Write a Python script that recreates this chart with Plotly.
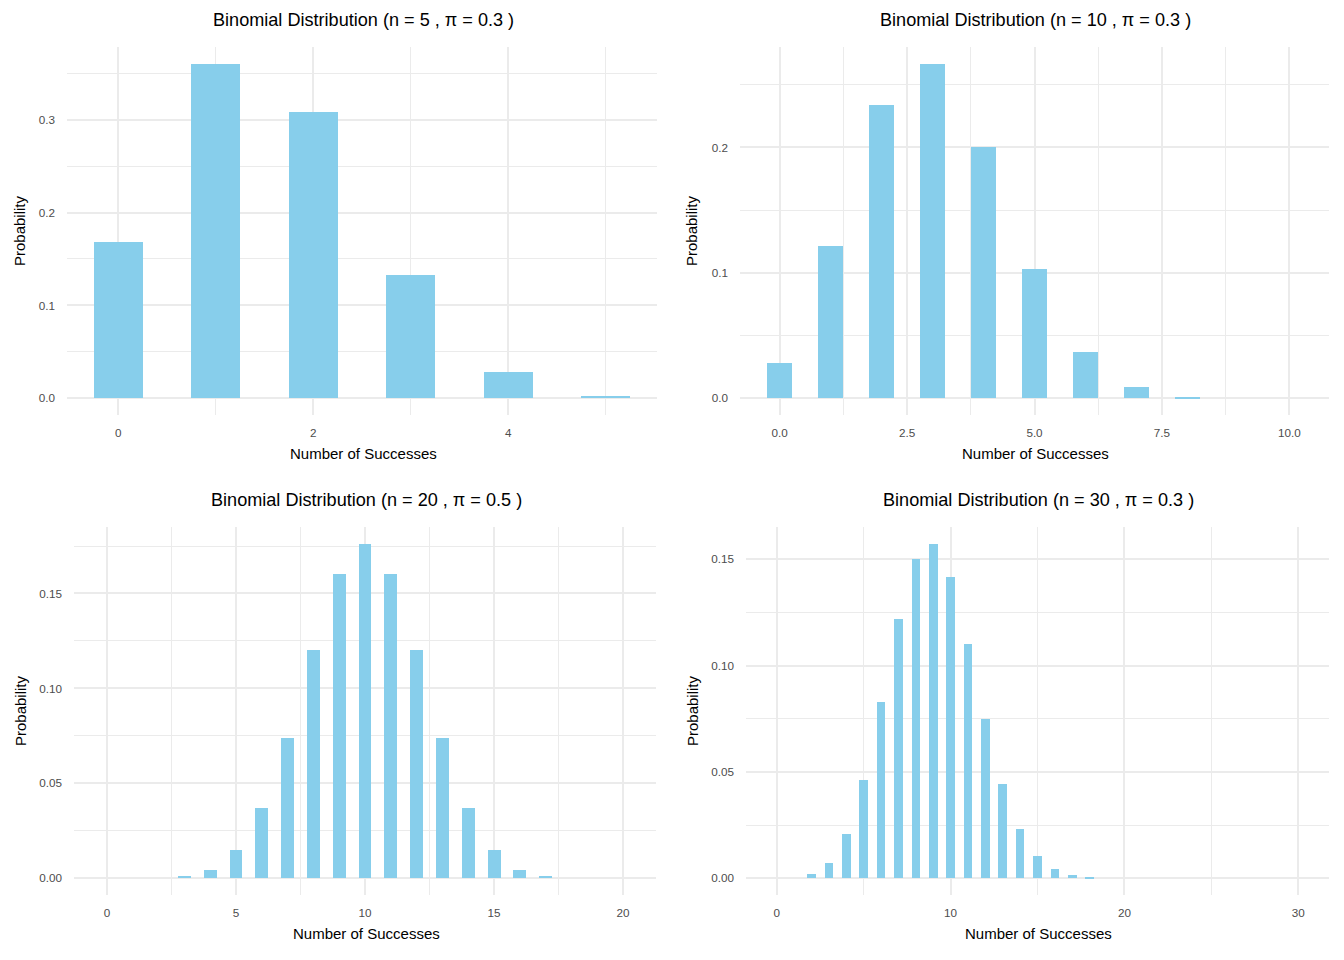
import plotly.graph_objects as go

# ---- data ----
k5 = [0, 1, 2, 3, 4, 5]
p5 = [0.1681, 0.3602, 0.3087, 0.1323, 0.0284, 0.0024]

k10 = list(range(0, 11))
p10 = [0.0282, 0.1211, 0.2335, 0.2668, 0.2001, 0.1029, 0.0368, 0.0090, 0.0014, 0.0000, 0.0000]

k20 = list(range(0, 21))
p20 = [0.0000, 0.0000, 0.0000, 0.0011, 0.0046, 0.0148, 0.0370, 0.0739, 0.1201, 0.1602,
       0.1762, 0.1602, 0.1201, 0.0739, 0.0370, 0.0148, 0.0046, 0.0011, 0.0000, 0.0000, 0.0000]

k30 = list(range(0, 31))
p30 = [0.0000, 0.0000, 0.0018, 0.0072, 0.0208, 0.0464, 0.0829, 0.1219, 0.1501, 0.1573,
       0.1416, 0.1103, 0.0749, 0.0444, 0.0231, 0.0106, 0.0042, 0.0015, 0.0005, 0.0000,
       0.0000, 0.0000, 0.0000, 0.0000, 0.0000, 0.0000, 0.0000, 0.0000, 0.0000, 0.0000, 0.0000]

titles = ["Binomial Distribution (n = 5 , \u03c0 = 0.3 )",
          "Binomial Distribution (n = 10 , \u03c0 = 0.3 )",
          "Binomial Distribution (n = 20 , \u03c0 = 0.5 )",
          "Binomial Distribution (n = 30 , \u03c0 = 0.3 )"]
x_title = "Number of Successes"
y_title = "Probability"

OFF = 8  # default page body margin
W, H = 1344 - 2 * OFF, 960 - 2 * OFF
FONT = "Liberation Sans, Arial, sans-serif"
BAR = "#87CEEB"
GRID = "#EBEBEB"

def px(x):
    return (x - OFF) / W

def py(y):
    return 1 - (y - OFF) / H

# panel pixel boxes in page coordinates: (left, right, top, bottom)
panels = [
    (67, 657, 47, 415),
    (740, 1329, 47, 415),
    (74, 656, 527, 895),
    (746, 1329, 527, 895),
]
series = [(k5, p5), (k10, p10), (k20, p20), (k30, p30)]
x_dtick = [2, 2.5, 5, 10]
y_dtick = [0.1, 0.1, 0.05, 0.05]
x_fmt = ["d", ".1f", "d", "d"]
y_fmt = [".1f", ".1f", ".2f", ".2f"]

fig = go.Figure()
annotations = []
for i, ((xs, ys), (l, r, t, b)) in enumerate(zip(series, panels)):
    idx = "" if i == 0 else str(i + 1)
    fig.add_trace(go.Bar(x=xs, y=ys, width=0.5, marker=dict(color=BAR, line=dict(width=0)),
                         xaxis="x" + idx, yaxis="y" + idx, showlegend=False))
    n = xs[-1]
    xr = [-0.25 - 0.05 * (n + 0.5), n + 0.25 + 0.05 * (n + 0.5)]
    ymax = max(ys)
    yr = [-0.05 * ymax, 1.05 * ymax]
    fig.layout["xaxis" + idx] = dict(
        domain=[px(l), px(r)], anchor="y" + idx, range=xr, tick0=0, dtick=x_dtick[i],
        tickformat=x_fmt[i], showgrid=True, gridcolor=GRID, gridwidth=1.6, zeroline=False,
        showline=False, ticks="", ticklabelstandoff=9,
        tickfont=dict(family=FONT, size=11.7, color="#4D4D4D"),
        minor=dict(dtick=x_dtick[i] / 2, tick0=0, showgrid=True, gridcolor=GRID, gridwidth=0.8),
        fixedrange=True)
    fig.layout["yaxis" + idx] = dict(
        domain=[py(b), py(t)], anchor="x" + idx, range=yr, tick0=0, dtick=y_dtick[i],
        tickformat=y_fmt[i], showgrid=True, gridcolor=GRID, gridwidth=1.6, zeroline=False,
        showline=False, ticks="", ticklabelstandoff=11,
        tickfont=dict(family=FONT, size=11.7, color="#4D4D4D"),
        minor=dict(dtick=y_dtick[i] / 2, tick0=0, showgrid=True, gridcolor=GRID, gridwidth=0.8),
        fixedrange=True)
    cx = (l + r) / 2
    title_y = 20 if i < 2 else 500
    annotations.append(dict(text=titles[i], x=px(cx + 1), y=py(title_y), xref="paper", yref="paper",
                            showarrow=False, xanchor="center", yanchor="middle",
                            font=dict(family=FONT, size=18.1, color="#000000")))
    xt_y = 453 if i < 2 else 933
    annotations.append(dict(text=x_title, x=px(cx + 1), y=py(xt_y), xref="paper", yref="paper",
                            showarrow=False, xanchor="center", yanchor="middle",
                            font=dict(family=FONT, size=15, color="#000000")))
    yt_x = 20 if i % 2 == 0 else 692
    annotations.append(dict(text=y_title, x=px(yt_x), y=py((t + b) / 2), xref="paper", yref="paper",
                            showarrow=False, xanchor="center", yanchor="middle", textangle=-90,
                            font=dict(family=FONT, size=15, color="#000000")))

fig.update_layout(width=W, height=H, margin=dict(l=0, r=0, t=0, b=0),
                  paper_bgcolor="white", plot_bgcolor="white", bargap=0,
                  annotations=annotations, font=dict(family=FONT))
fig.write_html("out.html")
